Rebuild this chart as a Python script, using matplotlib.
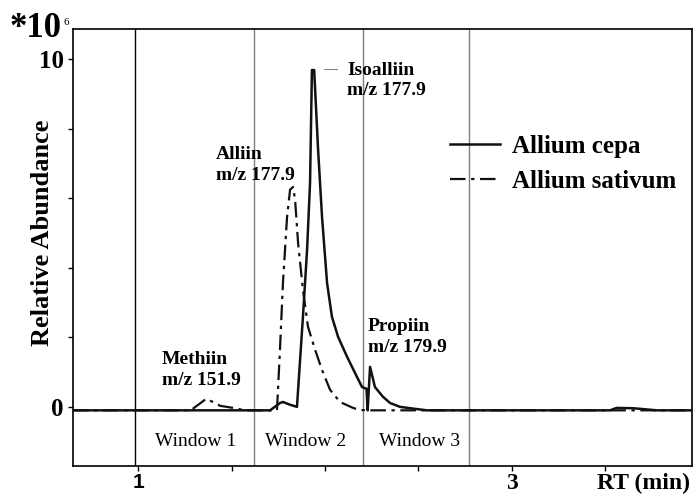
import matplotlib
matplotlib.use("Agg")
import matplotlib.pyplot as plt
import numpy as np

# Chromatogram traces (RT in min, abundance in 1e6)
cepa_rt = [0.652, 1.706, 1.759, 1.775, 1.813, 1.850, 1.882, 1.904, 1.920, 1.930,
           1.942, 1.963, 1.984, 2.011, 2.037, 2.070, 2.118, 2.171, 2.198, 2.222,
           2.228, 2.241, 2.267, 2.310, 2.348, 2.401, 2.471, 2.545, 3.524, 3.560,
           3.650, 3.775, 3.963]
cepa_ab = [-0.10, -0.10, 0.11, 0.14, 0.06, 0.00, 2.59, 4.51, 6.44, 9.68,
           9.68, 7.39, 5.46, 3.56, 2.59, 2.01, 1.44, 0.86, 0.57, 0.52,
           -0.10, 1.15, 0.57, 0.29, 0.11, 0.00, -0.05, -0.10, -0.10, -0.03,
           -0.04, -0.10, -0.10]

sativum_rt = [0.652, 1.278, 1.294, 1.332, 1.364, 1.401, 1.439, 1.508, 1.572, 1.743,
              1.759, 1.775, 1.797, 1.813, 1.829, 1.840, 1.856, 1.882, 1.909, 1.947,
              1.984, 2.027, 2.080, 2.150, 2.187, 2.230, 3.963]
sativum_ab = [-0.10, -0.10, -0.05, 0.10, 0.23, 0.14, 0.03, -0.03, -0.10, -0.10,
              1.64, 3.56, 5.46, 6.24, 6.32, 5.95, 4.71, 3.36, 2.30, 1.64,
              1.06, 0.49, 0.14, -0.03, -0.09, -0.10, -0.10]

# Window boundaries (min)
window_edges = [0.984, 1.620, 2.203, 2.770]
window_names = ["Window 1", "Window 2", "Window 3"]
window_pos = [1.31, 1.898, 2.508]

# Peak labels: (name, m/z, x, y)
peak_names = ["Methiin", "Alliin", "Isoalliin", "Propiin"]
peak_mz = ["m/z 151.9", "m/z 177.9", "m/z 177.9", "m/z 179.9"]
peak_x = [1.128, 1.417, 2.118, 2.230]
peak_y = [1.06, 6.95, 9.37, 2.01]

serif = "Liberation Serif"

fig = plt.figure(figsize=(6.93, 4.95), dpi=100)
ax = fig.add_axes([73/693, 29/495, 619/693, 437/495])

for i, e in enumerate(window_edges):
    ax.axvline(e, color="black" if i == 0 else "#7f7f7f", lw=1.0, zorder=1)

ax.plot(cepa_rt, cepa_ab, color="#111111", lw=1.8, label="Allium cepa", zorder=3)
ax.plot(sativum_rt, sativum_ab, color="#111111", lw=1.6,
        dashes=(7, 2.5, 1.5, 2.5), label="Allium sativum", zorder=3)

ax.set_xlim(0.652, 3.963)
ax.set_ylim(-1.7, 10.86)

ax.set_xticks([1, 1.5, 2, 2.5, 3, 3.5])
ax.set_xticklabels(["1", "", "", "", "3", ""])
ax.set_yticks([0, 2, 4, 6, 8, 10])
ax.set_yticklabels(["0", "", "", "", "", "10"])
ax.tick_params(direction="out", length=3.5, width=1.0, pad=3)
ax.tick_params(axis="x", pad=1.5)
for lab in ax.get_yticklabels():
    lab.set_fontfamily(serif)
    lab.set_fontweight("bold")
    lab.set_fontsize(18)
xl = ax.get_xticklabels()
xl[0].set_fontfamily("Liberation Sans")
xl[0].set_fontweight("bold")
xl[0].set_fontsize(15)
xl[4].set_fontfamily(serif)
xl[4].set_fontweight("bold")
xl[4].set_fontsize(17)

for s in ax.spines.values():
    s.set_linewidth(1.2)

for name, xw in zip(window_names, window_pos):
    ax.text(xw, -1.0, name, ha="center", va="center", family=serif, fontsize=14)

for i in range(len(peak_names)):
    ax.text(peak_x[i], peak_y[i], peak_names[i] + "\n" + peak_mz[i], ha="left",
            va="center", family=serif, fontweight="bold", fontsize=14, linespacing=1.25)
ax.text(2.065, 9.68, "\u2014", ha="right", va="center", family=serif,
        fontsize=10, color="#555555")

leg = ax.legend(loc="upper left", bbox_to_anchor=(0.609, 0.757), frameon=False,
                borderpad=0, borderaxespad=0, handlelength=2.0, handletextpad=0.5,
                labelspacing=0.47, prop={"family": serif, "weight": "bold", "size": 18})

fig.text(43/693, 1 - 233/495, "Relative Abundance", rotation=90, ha="center",
         va="center", family=serif, fontweight="bold", fontsize=19)
fig.text(597/693, 1 - 483/495, "RT (min)", ha="left", va="center",
         family=serif, fontweight="bold", fontsize=17)
fig.text(10/693, 1 - 37/495, "*10", ha="left", va="baseline",
         family=serif, fontweight="bold", fontsize=25)
fig.text(64/693, 1 - 25/495, "6", ha="left", va="baseline",
         family=serif, fontsize=8)

fig.savefig("out.png", dpi=100)
